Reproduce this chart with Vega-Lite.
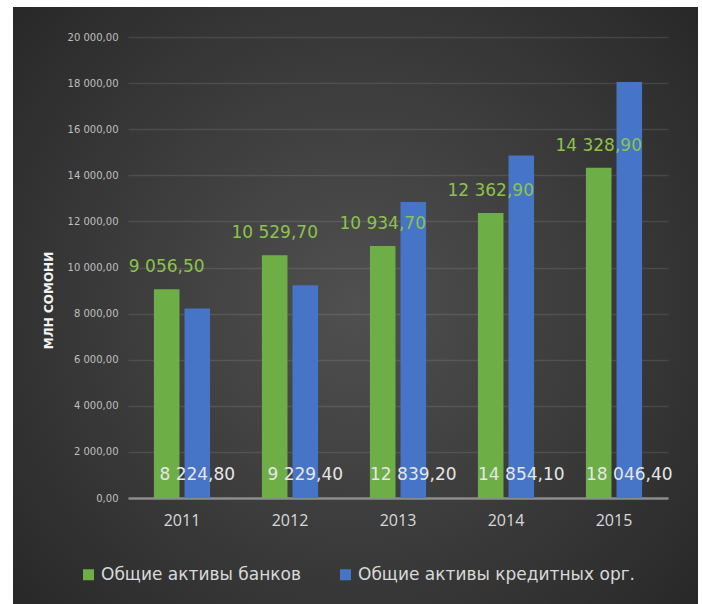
{
  "$schema": "https://vega.github.io/schema/vega-lite/v6.json",
  "autosize": "none",
  "width": 685,
  "height": 597,
  "padding": {"left": 13, "top": 7, "right": 4, "bottom": 0},
  "background": "#ffffff",
  "config": {
    "locale": {"number": {"decimal": ",", "thousands": " ", "grouping": [3], "currency": ["", ""]}},
    "view": {
      "stroke": null,
      "fill": {"gradient": "radial", "x1": 0.5, "y1": 0.5, "r1": 0, "x2": 0.5, "y2": 0.5, "r2": 0.75,
        "stops": [{"offset": 0, "color": "#505050"}, {"offset": 1, "color": "#232323"}]}
    },
    "font": "DejaVu Sans"
  },
  "data": {
    "values": [
      {"year": "2011", "series": "Общие активы банков", "value": 9056.5},
      {"year": "2011", "series": "Общие активы кредитных орг.", "value": 8224.8},
      {"year": "2012", "series": "Общие активы банков", "value": 10529.7},
      {"year": "2012", "series": "Общие активы кредитных орг.", "value": 9229.4},
      {"year": "2013", "series": "Общие активы банков", "value": 10934.7},
      {"year": "2013", "series": "Общие активы кредитных орг.", "value": 12839.2},
      {"year": "2014", "series": "Общие активы банков", "value": 12362.9},
      {"year": "2014", "series": "Общие активы кредитных орг.", "value": 14854.1},
      {"year": "2015", "series": "Общие активы банков", "value": 14328.9},
      {"year": "2015", "series": "Общие активы кредитных орг.", "value": 18046.4}
    ]
  },
  "encoding": {
    "x": {
      "field": "year", "type": "nominal",
      "scale": {"range": [115, 655], "paddingInner": 0.48, "paddingOuter": 0.24},
      "axis": {"title": null, "orient": "bottom", "offset": -106, "labelAngle": 0, "ticks": false,
        "domainColor": "#8c8c8c", "domainWidth": 2.5, "labelColor": "#d9d9d9", "labelFontSize": 16,
        "labelFont": "Open Sans", "labelPadding": 14}
    },
    "xOffset": {
      "field": "series", "type": "nominal",
      "scale": {"paddingInner": 0.164, "paddingOuter": 0,
        "domain": ["Общие активы банков", "Общие активы кредитных орг."]}
    },
    "y": {
      "type": "quantitative",
      "scale": {"domain": [0, 20000], "range": [491, 30], "nice": false},
      "axis": {"title": "МЛН СОМОНИ", "offset": -115, "values": [0, 2000, 4000, 6000, 8000, 10000, 12000, 14000, 16000, 18000, 20000],
        "format": ",.2f", "ticks": false, "domain": false, "labelPadding": 10, "labelFontSize": 10,
        "labelColor": "#bfbfbf", "gridColor": "#ffffff", "gridOpacity": 0.1, "gridWidth": 1.5,
        "titleX": -80, "titleY": 293, "titleAngle": -90, "titleAlign": "center", "titleBaseline": "middle",
        "titleColor": "#f2f2f2", "titleFontSize": 12, "titleFontWeight": "bold"}
    }
  },
  "layer": [
    {
      "mark": {"type": "bar"},
      "encoding": {
        "y": {"field": "value"},
        "color": {
          "field": "series", "type": "nominal",
          "scale": {"domain": ["Общие активы банков", "Общие активы кредитных орг."], "range": ["#6eae46", "#4674c6"]},
          "legend": {"title": null, "orient": "none", "direction": "horizontal", "legendX": 67, "legendY": 559,
            "symbolType": "square", "symbolSize": 121, "symbolStrokeWidth": 0, "labelFontSize": 17,
            "labelColor": "#d9d9d9", "columnPadding": 36, "labelOffset": 4, "labelLimit": 0}
        }
      }
    },
    {
      "transform": [{"filter": "datum.series === 'Общие активы банков'"}],
      "mark": {"type": "text", "baseline": "middle", "dy": -22, "fontSize": 17, "color": "#8cc34a"},
      "encoding": {"y": {"field": "value"}, "text": {"field": "value", "format": ",.2f"}}
    },
    {
      "transform": [{"filter": "datum.series === 'Общие активы кредитных орг.'"}],
      "mark": {"type": "text", "baseline": "middle", "dy": -23, "fontSize": 17, "color": "#e6e6e6"},
      "encoding": {"y": {"datum": 0}, "text": {"field": "value", "format": ",.2f"}}
    }
  ]
}
